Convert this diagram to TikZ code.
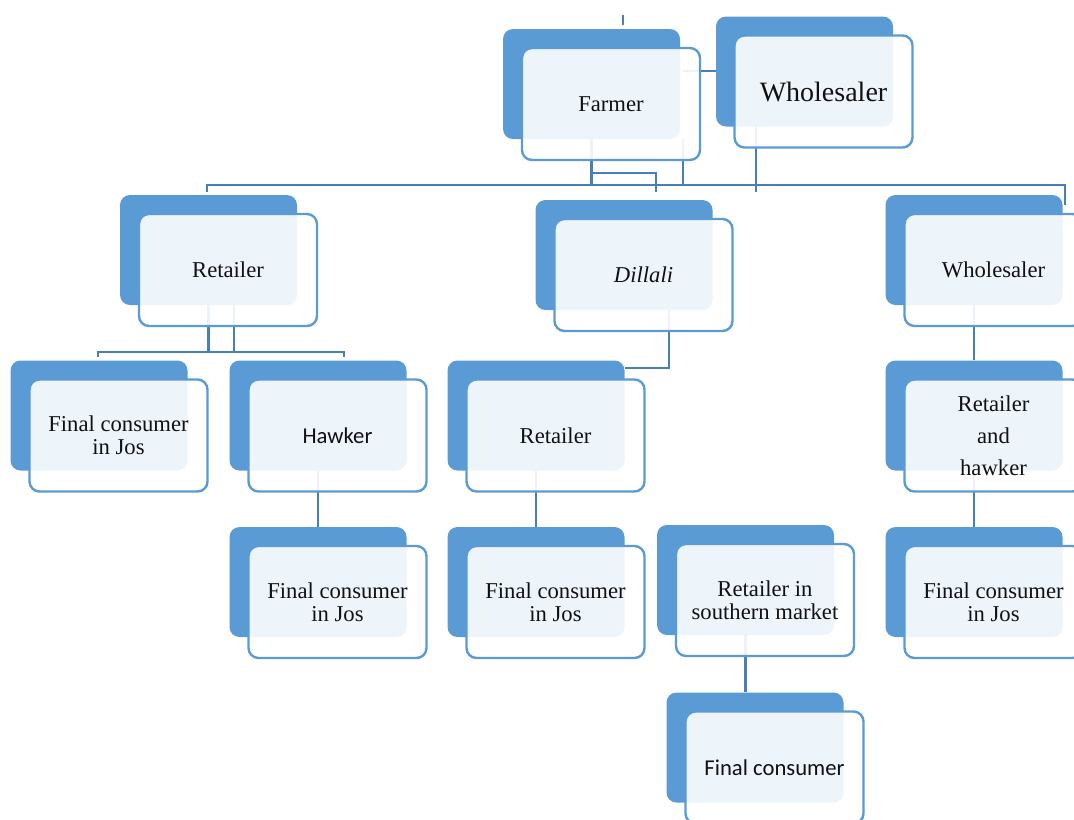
\documentclass[tikz,border=0pt]{standalone}
\usepackage{fontspec}
\setmainfont{Liberation Serif}
\newfontfamily\calibri{Carlito}
\usepackage{tikz}
\usetikzlibrary{positioning}
\definecolor{unitBlue}{HTML}{5B9BD5}
\definecolor{linkBlue}{HTML}{4A7EBB}
\definecolor{textDark}{HTML}{111111}

\begin{document}
\begin{tikzpicture}[
  x=0.75pt,y=-0.75pt,
  every node/.style={font=\fontsize{17}{17.5}\selectfont,text=textDark},
  back/.style={fill=unitBlue,rounded corners=7.5pt,minimum width=132.75pt,
    minimum height=82.5pt,inner sep=0pt},
  front/.style={draw=unitBlue,line width=1.8pt,fill=white,fill opacity=0.9,
    text opacity=1,rounded corners=7.5pt,minimum width=133.5pt,
    minimum height=84pt,inner sep=2pt,align=center},
  link/.style={draw=linkBlue,line width=1.7pt}
]
  \clip (0,0) rectangle (1074,819);

  % back plates
  \node[back] (farmerB)  at (591.5,84) {};
  \node[back] (wholeB)   at (804.5,71.5) {};
  \node[back] (retailB)  at (208.5,250) {};
  \node[back] (dillaliB) at (624,255) {};
  \node[back] (whole2B)  at (974,250) {};
  \node[back] (jos1B)    at (99,415.5) {};
  \node[back] (hawkerB)  at (318,415.5) {};
  \node[back] (retail3B) at (536,415.5) {};
  \node[back] (rethawkB) at (974,415.5) {};
  \node[back] (jos2B)    at (318,582) {};
  \node[back] (jos3B)    at (536,582) {};
  \node[back] (southB)   at (745.5,580) {};
  \node[back] (jos4B)    at (974,582) {};
  \node[back] (finalB)   at (755,747.5) {};

  % connectors
  \coordinate (bus) at (0,185);
  \coordinate (top) at (623,15);
  \coordinate (fr) at (683,71);
  \coordinate (hook) at (656,173);
  \coordinate (wdrop) at (756,126);
  \coordinate (busW) at (207,192);
  \coordinate (busE) at (1065,205);
  \coordinate (rbus) at (0,352);
  \coordinate (rbusW) at (98,357);
  \coordinate (rbusE) at (344,357);
  \coordinate (rsec) at (234,305);
  \coordinate (dturn) at (669,368);

  \draw[link] (top) -- ++(0,10);
  \draw[link] (fr) -- (wholeB.west |- fr);
  \draw[link] (fr |- farmerB.south) -- (fr |- bus);
  \draw[link] (farmerB.south) -- (farmerB.south |- bus);
  \draw[link] (farmerB.south |- hook) -- (hook) -- (hook |- 0,192);
  \draw[link] (wdrop) -- (wdrop |- 0,192);
  \draw[link] (busW) -- (busW |- bus) -- (busE |- bus) -- (busE);

  \draw[link] (retailB.south) -- (retailB.south |- rbus);
  \draw[link] (rsec) -- (rsec |- rbus);
  \draw[link] (rbusW) -- (rbusW |- rbus) -- (rbusE |- rbus) -- (rbusE);

  \draw[link] (dturn |- dillaliB.south) -- (dturn) -- (retail3B.north east |- dturn);
  \draw[link] (whole2B.south) -- (rethawkB.north);
  \draw[link] (hawkerB.south) -- (jos2B.north);
  \draw[link] (retail3B.south) -- (jos3B.north);
  \draw[link] (rethawkB.south) -- (jos4B.north);
  \draw[link] (southB.south) -- (southB.south |- finalB.north);

  % front cards
  \node[front] (farmer)  at (611,104) {Farmer};
  \node[front,font=\fontsize{21}{25}\selectfont] (whole) at (823.5,91.5) {Wholesaler};
  \node[front] (retail)  at (228,270) {Retailer};
  \node[front] (dillali) at (643.5,275) {\itshape Dillali};
  \node[front] (whole2)  at (993.5,270) {Wholesaler};
  \node[front] (jos1)    at (118.5,435.5) {Final consumer\\in Jos};
  \node[front] (hawker)  at (337.5,435.5) {\calibri Hawker};
  \node[front] (retail3) at (555.5,435.5) {Retailer};
  \node[front] (rethawk) at (993.5,435.5) {Retailer\\[6.5pt]and\\[6.5pt]hawker};
  \node[front] (jos2)    at (337.5,602) {Final consumer\\in Jos};
  \node[front] (jos3)    at (555.5,602) {Final consumer\\in Jos};
  \node[front] (south)   at (765,600) {Retailer in\\southern market};
  \node[front] (jos4)    at (993.5,602) {Final consumer\\in Jos};
  \node[front] (final)   at (774.5,767.5) {\calibri Final consumer};
\end{tikzpicture}
\end{document}
